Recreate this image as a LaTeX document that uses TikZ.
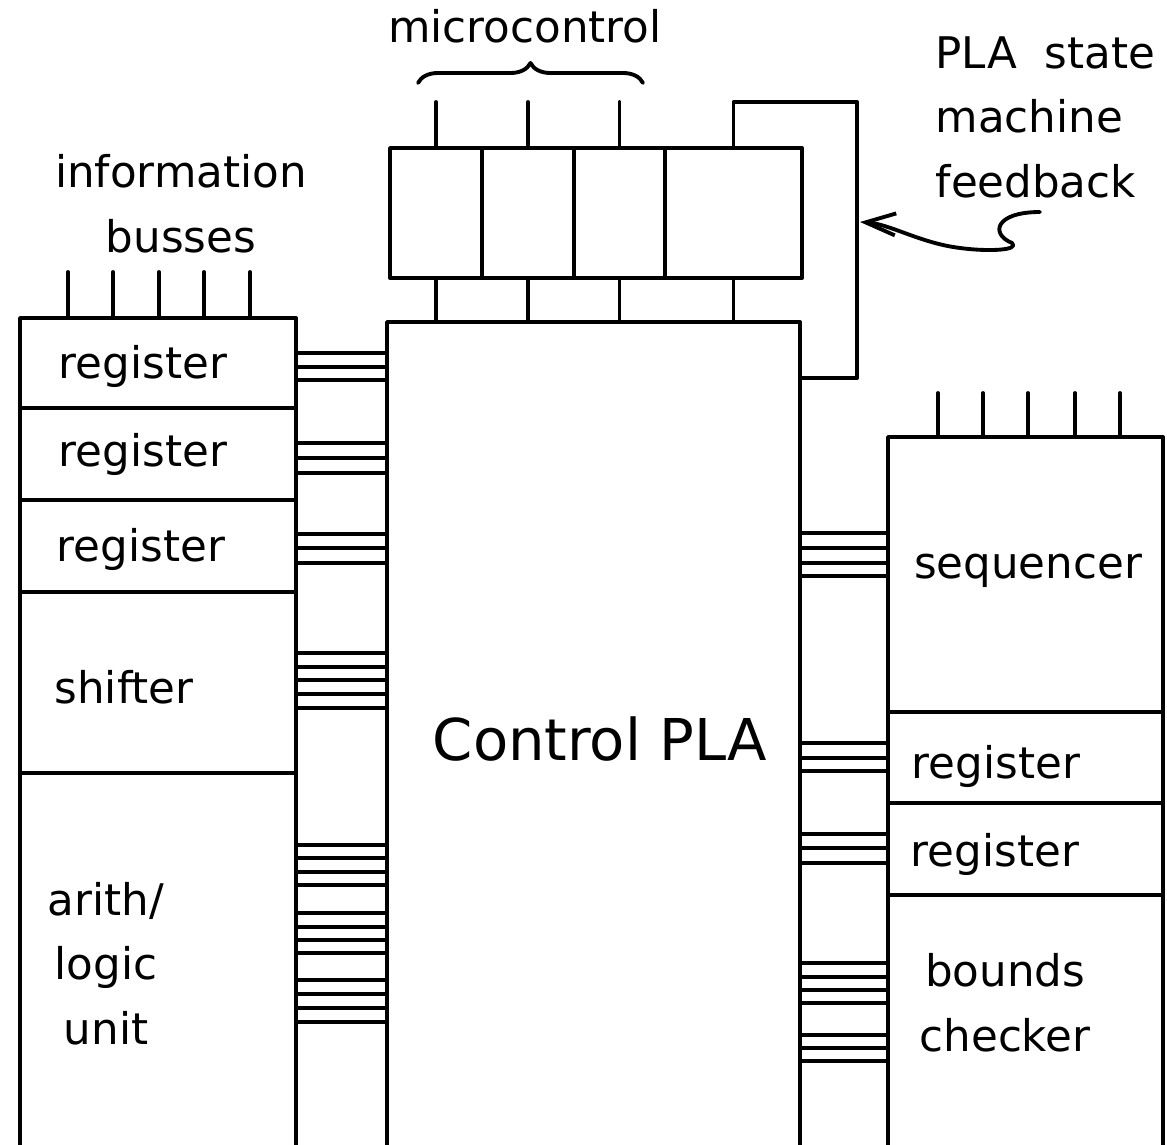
\documentclass[tikz,border=0pt]{standalone}
\usepackage{fontspec}
\setmainfont{DejaVu Sans}
\usetikzlibrary{arrows.meta,decorations.pathreplacing}

\tikzset{
  blk/.style={draw, line width=1.1pt, inner sep=0pt, outer sep=0pt, anchor=north west},
  lbl/.style={font=\fontsize{12.4}{18.3}\selectfont, align=center, inner sep=0pt, anchor=base},
  wire/.style={line width=1.1pt, line cap=round},
}

\begin{document}
\begin{tikzpicture}[x=0.1mm, y=-0.1mm, line join=round]
  \useasboundingbox (0,0) rectangle (1167,1145);
  \clip (0,0) rectangle (1167,1145);

  % Left column
  \node[blk, minimum width=27.6mm, minimum height=9.0mm] (lreg1) at (20,318) {};
  \node[blk, minimum width=27.6mm, minimum height=9.2mm] (lreg2) at (20,408) {};
  \node[blk, minimum width=27.6mm, minimum height=9.2mm] (lreg3) at (20,500) {};
  \node[blk, minimum width=27.6mm, minimum height=18.1mm] (shift) at (20,592) {};
  \node[blk, minimum width=27.6mm, minimum height=38.7mm] (alu) at (20,773) {};

  % Control PLA and microcontrol register
  \node[blk, minimum width=41.3mm, minimum height=83.8mm] (pla) at (387,322) {};
  \node[blk, minimum width=9.2mm, minimum height=13mm] (mc1) at (390,148) {};
  \node[blk, minimum width=9.2mm, minimum height=13mm] (mc2) at (482,148) {};
  \node[blk, minimum width=9.1mm, minimum height=13mm] (mc3) at (574,148) {};
  \node[blk, minimum width=13.7mm, minimum height=13mm] (mc4) at (665,148) {};

  % Right column
  \node[blk, minimum width=27.5mm, minimum height=27.5mm] (seq) at (888,437) {};
  \node[blk, minimum width=27.5mm, minimum height=9.1mm] (rreg1) at (888,712) {};
  \node[blk, minimum width=27.5mm, minimum height=9.2mm] (rreg2) at (888,803) {};
  \node[blk, minimum width=27.5mm, minimum height=26.5mm] (bnd) at (888,895) {};

  % Labels (base of a multi-line label is its last line)
  \node[lbl] (tinfo) at (181,252) {information\\busses};
  \node[lbl] (tmicro) at (525,43) {microcontrol};
  \node[lbl, align=left, anchor=base west] (tfb) at (935,197) {PLA\ \ state\\machine\\feedback};
  \node[lbl] (tlreg1) at (143,378) {register};
  \node[lbl] (tlreg2) at (143,466) {register};
  \node[lbl] (tlreg3) at (141,561) {register};
  \node[lbl] (tshift) at (124,703) {shifter};
  \node[lbl] (talu) at (106,1044) {arith/\\logic\\unit};
  \node[lbl, font=\fontsize{16.4}{20}\selectfont] (tpla) at (600,760) {Control PLA};
  \node[lbl] (tseq) at (1028,578) {sequencer};
  \node[lbl] (trreg1) at (996,778) {register};
  \node[lbl] (trreg2) at (995,866) {register};
  \node[lbl] (tbnd) at (1005,1051) {bounds\\checker};

  % Brace over microcontrol inputs
  \draw[wire, decorate, decoration={brace, amplitude=2mm}] (418,83) -- (643,83);

  % Information busses
  \foreach \x in {68,113,159,204,250}
    \draw[wire] (\x,272) -- (\x,272 |- lreg1.north);
  \foreach \x in {938,983,1028,1075,1120}
    \draw[wire] (\x,393) -- (\x,393 |- seq.north);

  % Microcontrol lines
  \foreach \c in {mc1,mc2,mc3}
    \draw[wire] (\c.north) -- ++(0,-46);
  \foreach \c in {mc1,mc2,mc3,mc4}
    \draw[wire] (\c.south) -- (\c.south |- pla.north);

  % State machine feedback
  \coordinate (fbtop) at (857,102);
  \coordinate (fbbot) at (857,378);
  \draw[wire] (mc4.north) |- (fbtop) -- (fbbot) -- (pla.east |- fbbot);
  \coordinate (arrtail) at (1040,212);
  \coordinate (arrtip) at (860,222);
  \draw[wire, -{Straight Barb[length=3mm, width=2.2mm]}] (arrtail)
    .. controls (995,212) and (990,234) .. (1012,243)
    .. controls (1020,250) and (990,252) .. (960,248)
    .. controls (920,243) and (890,224) .. (arrtip);

  % Control lines, left
  \foreach \y in {353,367,380, 443,458,473, 534,548,563, 653,667,680,694,708,
                  845,858,872,885, 913,927,940,953, 980,994,1008,1022}
    \draw[wire] (alu.east |- 0,\y) -- (pla.west |- 0,\y);

  % Control lines, right
  \foreach \y in {533,548,563,576, 743,758,771, 834,848,863,
                  963,977,990,1003, 1035,1048,1061}
    \draw[wire] (pla.east |- 0,\y) -- (seq.west |- 0,\y);
\end{tikzpicture}
\end{document}
